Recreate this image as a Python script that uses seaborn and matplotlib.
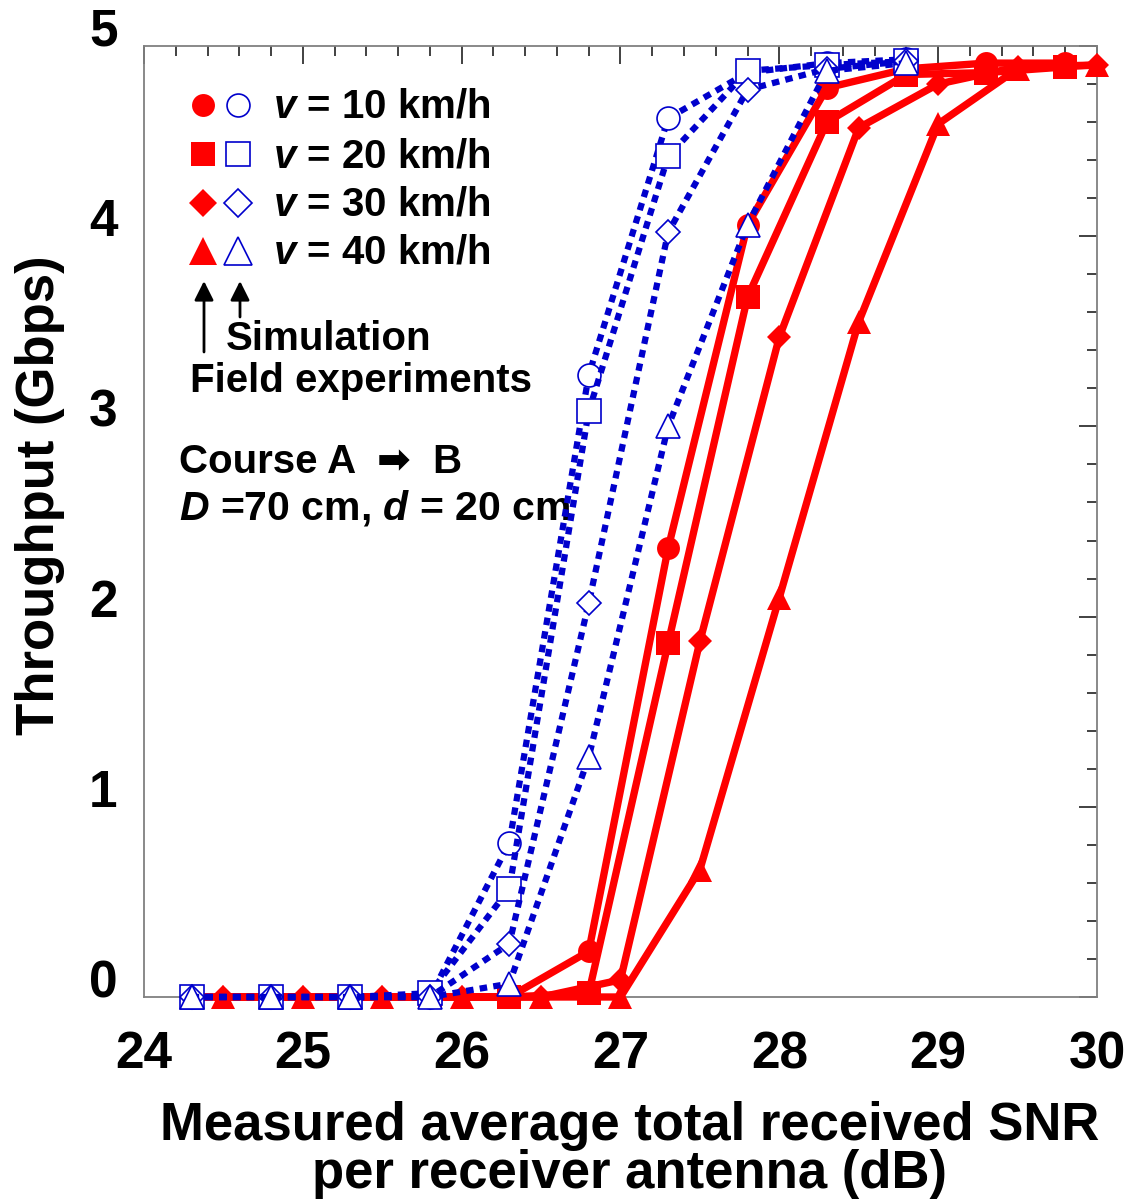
import numpy as np
import matplotlib
matplotlib.use("Agg")
import matplotlib.pyplot as plt
from matplotlib.ticker import MultipleLocator
import seaborn as sns

# simulation curves (open blue markers)
sim_x = [24.3, 24.8, 25.3, 25.8, 26.3, 26.8, 27.3, 27.8, 28.3, 28.8]
sim_10 = [0, 0, 0, 0, 0.81, 3.27, 4.62, 4.86, 4.91, 4.93]
sim_20 = [0, 0, 0, 0.02, 0.57, 3.08, 4.42, 4.87, 4.90, 4.92]
sim_30 = [0, 0, 0, 0, 0.28, 2.07, 4.02, 4.77, 4.88, 4.92]
sim_40 = [0, 0, 0, 0, 0.07, 1.26, 3.00, 4.06, 4.87, 4.91]

# field experiments (filled red markers)
fe_x_a = [24.3, 24.8, 25.3, 25.8, 26.3, 26.8, 27.3, 27.8, 28.3, 28.8, 29.3, 29.8]
fe_10 = [0, 0, 0, 0, 0, 0.24, 2.36, 4.06, 4.78, 4.88, 4.91, 4.91]
fe_20 = [0, 0, 0, 0, 0, 0.02, 1.86, 3.68, 4.60, 4.85, 4.86, 4.89]
fe_x_b = [24.5, 25.0, 25.5, 26.0, 26.5, 27.0, 27.5, 28.0, 28.5, 29.0, 29.5, 30.0]
fe_30 = [0, 0, 0, 0, 0, 0.09, 1.87, 3.47, 4.57, 4.80, 4.89, 4.90]
fe_40 = [0, 0, 0, 0, 0, 0, 0.67, 2.10, 3.55, 4.59, 4.88, 4.90]

speeds = ["10", "20", "30", "40"]
markers = ["o", "s", "D", "^"]
msizes = [16.5, 17.5, 12, 17]
leg_sizes = [16.5, 17.5, 14, 20]

sns.set_style("white")
plt.rcParams["font.family"] = ["Liberation Sans", "DejaVu Sans"]
plt.rcParams["font.weight"] = "bold"
plt.rcParams["text.color"] = "black"
plt.rcParams["axes.labelcolor"] = "black"
plt.rcParams["xtick.color"] = "black"
plt.rcParams["ytick.color"] = "black"
plt.rcParams["mathtext.fontset"] = "custom"
plt.rcParams["mathtext.it"] = "Liberation Sans:italic:bold"
plt.rcParams["mathtext.rm"] = "Liberation Sans:bold"

W, H = 1124, 1200
fig = plt.figure(figsize=(W / 100, H / 100), dpi=100)
L, R, T, B = 144, 1097, 46, 997
ax = fig.add_axes([L / W, 1 - B / H, (R - L) / W, (B - T) / H])

red = "#FF0000"
blue = "#0000CC"

fe_sets = [(fe_x_a, fe_10), (fe_x_a, fe_20), (fe_x_b, fe_30), (fe_x_b, fe_40)]
for (xs, ys), m, ms in zip(fe_sets, markers, msizes):
    sns.lineplot(x=xs, y=ys, ax=ax, color=red, lw=5.3, marker=m, markersize=ms,
                 markerfacecolor=red, markeredgecolor=red, markeredgewidth=0,
                 clip_on=False, zorder=3)

for ys, m, ms in zip([sim_10, sim_20, sim_30, sim_40], markers, msizes):
    sns.lineplot(x=sim_x, y=ys, ax=ax, color=blue, lw=4.5, linestyle=(0, (1.2, 1.0)),
                 dash_capstyle="butt", marker=m, markersize=ms, markerfacecolor="white",
                 markeredgecolor=blue, markeredgewidth=1.2, clip_on=False, zorder=4)

ax.set_xlim(24, 30)
ax.set_ylim(0, 5)
ax.xaxis.set_major_locator(MultipleLocator(1))
ax.xaxis.set_minor_locator(MultipleLocator(0.2))
ax.yaxis.set_major_locator(MultipleLocator(1))
ax.yaxis.set_minor_locator(MultipleLocator(0.2))
ax.tick_params(which="both", direction="in", top=True, right=True, color="#333333")
ax.tick_params(which="major", length=13, width=1.3)
ax.tick_params(which="minor", length=7, width=1.3)
ax.tick_params(axis="x", which="major", labelsize=37, pad=24)
ax.tick_params(axis="y", which="major", labelsize=37, pad=19)
for t in ax.get_yticklabels():
    t.set_verticalalignment("baseline")
for s in ax.spines.values():
    s.set_color("#808080")
    s.set_linewidth(1.3)

ax.set_xlabel("Measured average total received SNR\nper receiver antenna (dB)",
              fontsize=38, fontweight="bold", linespacing=0.95)
ax.xaxis.set_label_coords((630 - L) / (R - L), -0.109)
ax.set_ylabel("Throughput (Gbps)", fontsize=38, fontweight="bold")
ax.yaxis.set_label_coords(-0.083, (B - 495) / (B - T))


def fx(px):
    return (px - L) / (R - L)


def fy(py):
    return (B - py) / (B - T)


# legend block drawn by hand
row_base = [118, 167, 216, 264]
for sp, m, ms, yb in zip(speeds, markers, leg_sizes, row_base):
    yc = fy(yb - 13)
    ax.plot([fx(203)], [yc], marker=m, ms=ms, mfc=red, mec=red, mew=0,
            transform=ax.transAxes, ls="none")
    ax.plot([fx(238)], [yc], marker=m, ms=ms, mfc="white", mec=blue, mew=1.2,
            transform=ax.transAxes, ls="none")
    ax.text(fx(273), fy(yb), "$v$ = " + sp + " km/h", transform=ax.transAxes,
            fontsize=29, fontweight="bold", va="baseline", ha="left")

arrow = dict(arrowstyle="-|>", color="black", lw=2, mutation_scale=29, shrinkA=0, shrinkB=0)
ax.annotate("", xy=(fx(204), fy(281)), xytext=(fx(204), fy(352)),
            xycoords="axes fraction", arrowprops=arrow)
ax.annotate("", xy=(fx(240), fy(281)), xytext=(fx(240), fy(317)),
            xycoords="axes fraction", arrowprops=arrow)
ax.text(fx(226), fy(350), "Simulation", transform=ax.transAxes, fontsize=29,
        fontweight="bold", va="baseline")
ax.text(fx(190), fy(392), "Field experiments", transform=ax.transAxes, fontsize=29,
        fontweight="bold", va="baseline")
ax.text(fx(179), fy(473), "Course A  \u27a1  B", transform=ax.transAxes, fontsize=29,
        fontweight="bold", va="baseline")
ax.text(fx(179), fy(520), "$D$ =70 cm, $d$ = 20 cm", transform=ax.transAxes,
        fontsize=29.5, fontweight="bold", va="baseline")

fig.savefig("out.png", dpi=100)
